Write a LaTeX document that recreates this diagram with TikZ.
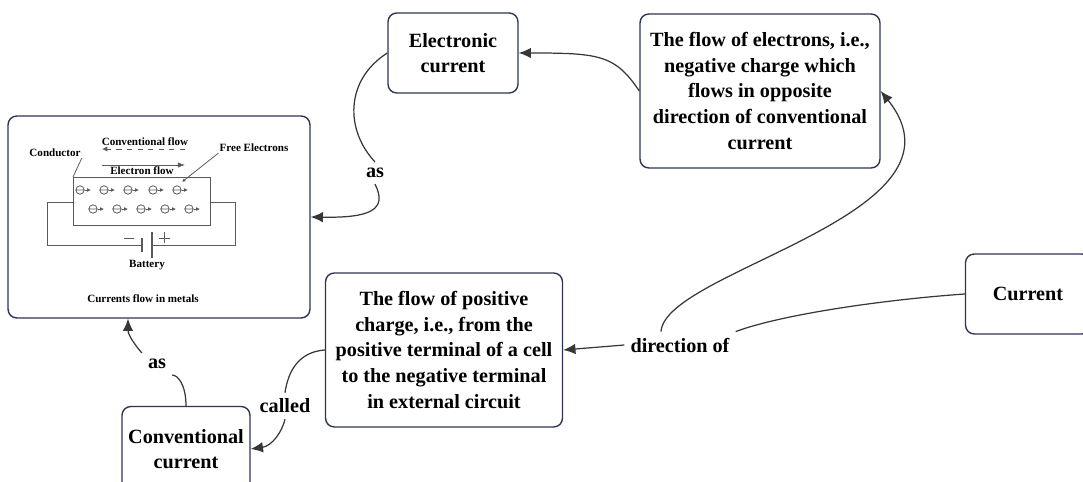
\documentclass[tikz,border=0pt]{standalone}
\usepackage{fontspec}
\setmainfont{Liberation Serif}
\usetikzlibrary{arrows.meta}

\definecolor{boxline}{RGB}{45,52,82}
\definecolor{linkline}{RGB}{55,55,55}
\definecolor{figline}{RGB}{90,90,90}

\begin{document}
\begin{tikzpicture}[x=0.02cm, y=-0.02cm,
  every node/.style={font=\bfseries\fontsize{11.5}{14.6}\selectfont, align=center},
  box/.style={draw=boxline, line width=0.8pt, rounded corners=5pt, inner sep=3pt},
  link/.style={draw=linkline, line width=0.7pt},
  tip/.style={link, -{Latex[length=7pt,width=6pt]}},
  tiny/.style={font=\bfseries\fontsize{6.3}{7}\selectfont, inner sep=0.5pt},
  fig/.style={draw=figline, line width=0.45pt}]
\useasboundingbox (0,0) rectangle (1083,482);

% Concepts
\node[box, minimum width=2.6cm, minimum height=1.6cm] (elec) at (453,53) {Electronic\\current};
\node[box, minimum width=4.8cm, minimum height=3.08cm] (flowe) at (760,91)
  {The flow of electrons, i.e.,\\negative charge which\\flows in opposite\\direction of conventional\\current};
\node[box, minimum width=6.04cm, minimum height=4.04cm] (img) at (159,217) {};
\node[box, minimum width=2.5cm, minimum height=1.6cm] (cur) at (1028,294) {Current};
\node[box, minimum width=4.74cm, minimum height=3.08cm] (posc) at (444,350)
  {The flow of positive\\charge, i.e., from the\\positive terminal of a cell\\to the negative terminal\\in external circuit};
\node[box, minimum width=2.56cm, minimum height=1.7cm] (conv) at (186,449) {Conventional\\current};

% Link labels
\node (as1) at (375,173) {as};
\node (dir) at (680,345) {direction of};
\node (called) at (285,406) {called};
\node (as2) at (157,364) {as};

% Links
\draw[tip] (flowe.west) .. controls (615,55) and (600,53) .. (elec.east);
\draw[link] (elec.west) .. controls (345,80) and (345,130) .. (as1.north);
\draw[tip] (as1.south) .. controls (388,210) and (370,218) .. (img.east);
\draw[link] (cur.west) .. controls (880,300) and (780,315) .. (dir.north east);
\draw[tip] (dir.west) -- (posc.east);
\draw[tip] ([xshift=-0.38cm]dir.north) .. controls (665,270) and (980,215) .. (flowe.east);
\draw[link] (posc.west) .. controls (298,352) and (288,372) .. (called.north);
\draw[tip] (called.south) .. controls (282,432) and (272,446) .. (conv.east);
\draw[link] (conv.north) .. controls (186,385) and (178,375) .. (as2.south east);
\draw[tip] (as2.north west) .. controls (135,345) and (128,335) .. ([xshift=-0.62cm]img.south);

% Currents flow in metals
\draw[fig] (73,177) rectangle (210,225);
\draw[fig] (73,202) -- (47,202) -- (47,245) -- (142,245);
\draw[fig] (152,245) -- (235,245) -- (235,202) -- (210,202);
\draw[fig, line width=0.6pt] (142,238) -- (142,252);
\draw[fig, line width=0.6pt] (152,232) -- (152,258);
\draw[fig] (124,238) -- (134,238);
\draw[fig] (159,238) -- (170,238) (164.5,232.5) -- (164.5,243.5);
\foreach \x in {80,104,128,153,177} {
  \draw[fig] (\x,190) circle (4.2) (\x-3.5,190) -- (\x+3.5,190);
  \draw[fig, -{Latex[length=2.2pt,width=2.2pt]}] (\x+5,190) -- (\x+11,190);
}
\foreach \x in {93,117,141,165,189} {
  \draw[fig] (\x,209) circle (4.2) (\x-3.5,209) -- (\x+3.5,209);
  \draw[fig, -{Latex[length=2.2pt,width=2.2pt]}] (\x+5,209) -- (\x+11,209);
}
\node[tiny] (cflow) at (145,142) {Conventional flow};
\node[tiny] (eflow) at (142,171) {Electron flow};
\node[tiny] (cond) at (55,153) {Conductor};
\node[tiny] (free) at (254,148) {Free Electrons};
\node[tiny] (batt) at (147,265) {Battery};
\node[tiny] (cap) at (143,299) {Currents flow in metals};
\draw[fig, dashed, -{Latex[length=3pt,width=3pt]}] (185,149) -- (102,149);
\draw[fig, -{Latex[length=4pt,width=3pt]}] (102,165) -- (185,165);
\draw[fig] (cond.south east) -- (73,177);
\draw[fig, -{Latex[length=2pt,width=2pt]}] (free.south west) -- (182,182);
\end{tikzpicture}
\end{document}
